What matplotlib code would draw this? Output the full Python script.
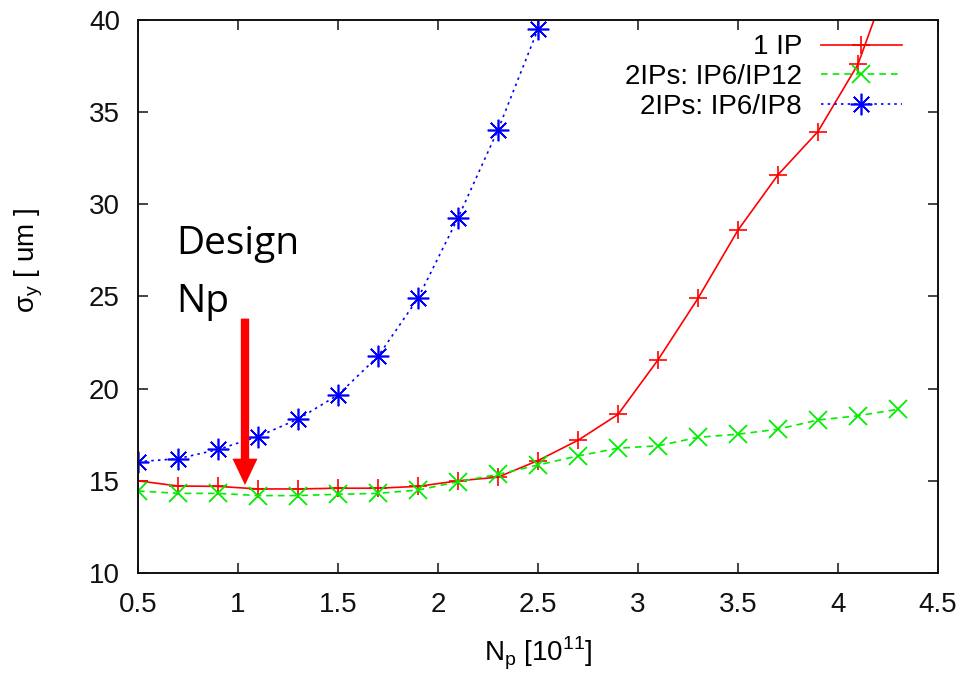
import matplotlib.pyplot as plt

plt.rcParams["font.family"] = ["Liberation Sans", "DejaVu Sans"]
plt.rcParams["mathtext.fontset"] = "custom"
plt.rcParams["mathtext.rm"] = "Liberation Sans"

# bunch intensity scan, sigma_y at the IP
np_values = [0.5, 0.7, 0.9, 1.1, 1.3, 1.5, 1.7, 1.9, 2.1, 2.3,
             2.5, 2.7, 2.9, 3.1, 3.3, 3.5, 3.7, 3.9, 4.1, 4.3]
sigma_1ip = [15.0, 14.72, 14.7, 14.56, 14.56, 14.6, 14.6, 14.7, 15.0, 15.2,
             16.1, 17.2, 18.6, 21.56, 24.9, 28.6, 31.6, 33.95, 37.6, 43.6]
sigma_ip6_ip12 = [14.45, 14.32, 14.32, 14.2, 14.2, 14.27, 14.32, 14.5, 14.95, 15.35,
                  15.86, 16.35, 16.77, 16.9, 17.36, 17.53, 17.8, 18.3, 18.53, 18.88]
np_ip6_ip8 = [0.5, 0.7, 0.9, 1.1, 1.3, 1.5, 1.7, 1.9, 2.1, 2.3, 2.5]
sigma_ip6_ip8 = [16.04, 16.2, 16.7, 17.4, 18.35, 19.66, 21.75, 24.9, 29.26, 34.04, 39.5]

design_np = 1.035

fig = plt.figure(figsize=(9.67, 6.75), dpi=100)
ax = fig.add_axes([0.1427, 0.1511, 0.8273, 0.8193])

ax.plot(np_values, sigma_1ip, color="#ff0000", lw=1.2, marker="+",
        markersize=13, markeredgewidth=1.2, label="1 IP")
ax.plot(np_values, sigma_ip6_ip12, color="#00ee00", lw=1.2, dashes=(4, 3),
        marker="x", markersize=13.5, markeredgewidth=1.3,
        label="2IPs: IP6/IP12")
ax.plot(np_ip6_ip8, sigma_ip6_ip8, color="#0000ff", lw=1.2, dashes=(1.5, 2.5),
        marker=(8, 2, 0), markersize=15.5, markeredgewidth=1.2,
        label="2IPs: IP6/IP8")

ax.set_xlim(0.5, 4.5)
ax.set_ylim(10, 40)
ax.set_xticks([0.5, 1, 1.5, 2, 2.5, 3, 3.5, 4, 4.5])
ax.set_xticklabels(["0.5", "1", "1.5", "2", "2.5", "3", "3.5", "4", "4.5"])
ax.set_yticks([10, 15, 20, 25, 30, 35, 40])

ax.tick_params(direction="in", length=7, width=1.1, top=True, right=True,
               labelsize=20, colors="#111111")
ax.tick_params(axis="x", pad=14)
ax.tick_params(axis="y", pad=13)
for sp in ax.spines.values():
    sp.set_linewidth(1.4)
    sp.set_color("#111111")

ax.set_xlabel(r"N$_{\mathrm{p}}$ [10$^{11}$]", fontsize=20)
ax.set_ylabel(r"σ$_{\mathrm{y}}$ [ um ]", fontsize=20)
ax.xaxis.set_label_coords(0.5, -0.112)
ax.yaxis.set_label_coords(-0.116, 0.566)

ax.legend(loc="upper right", bbox_to_anchor=(0.955, 0.974), frameon=False,
          markerfirst=False, fontsize=20, handlelength=2.92,
          handletextpad=0.68, labelspacing=0.13, borderpad=0, borderaxespad=0)

# design bunch intensity marker
ax.text(0.69, 27.31, "Design", fontsize=28, family=["Open Sans", "DejaVu Sans"],
        va="baseline", ha="left")
ax.text(0.69, 24.16, "Np", fontsize=28, family=["Open Sans", "DejaVu Sans"],
        va="baseline", ha="left")
ax.annotate("", xy=(design_np, 14.77), xytext=(design_np, 23.8),
            arrowprops=dict(facecolor="#ff0000", edgecolor="none", width=6,
                            headwidth=18, headlength=19, shrink=0))

fig.savefig("out.png", dpi=100)
